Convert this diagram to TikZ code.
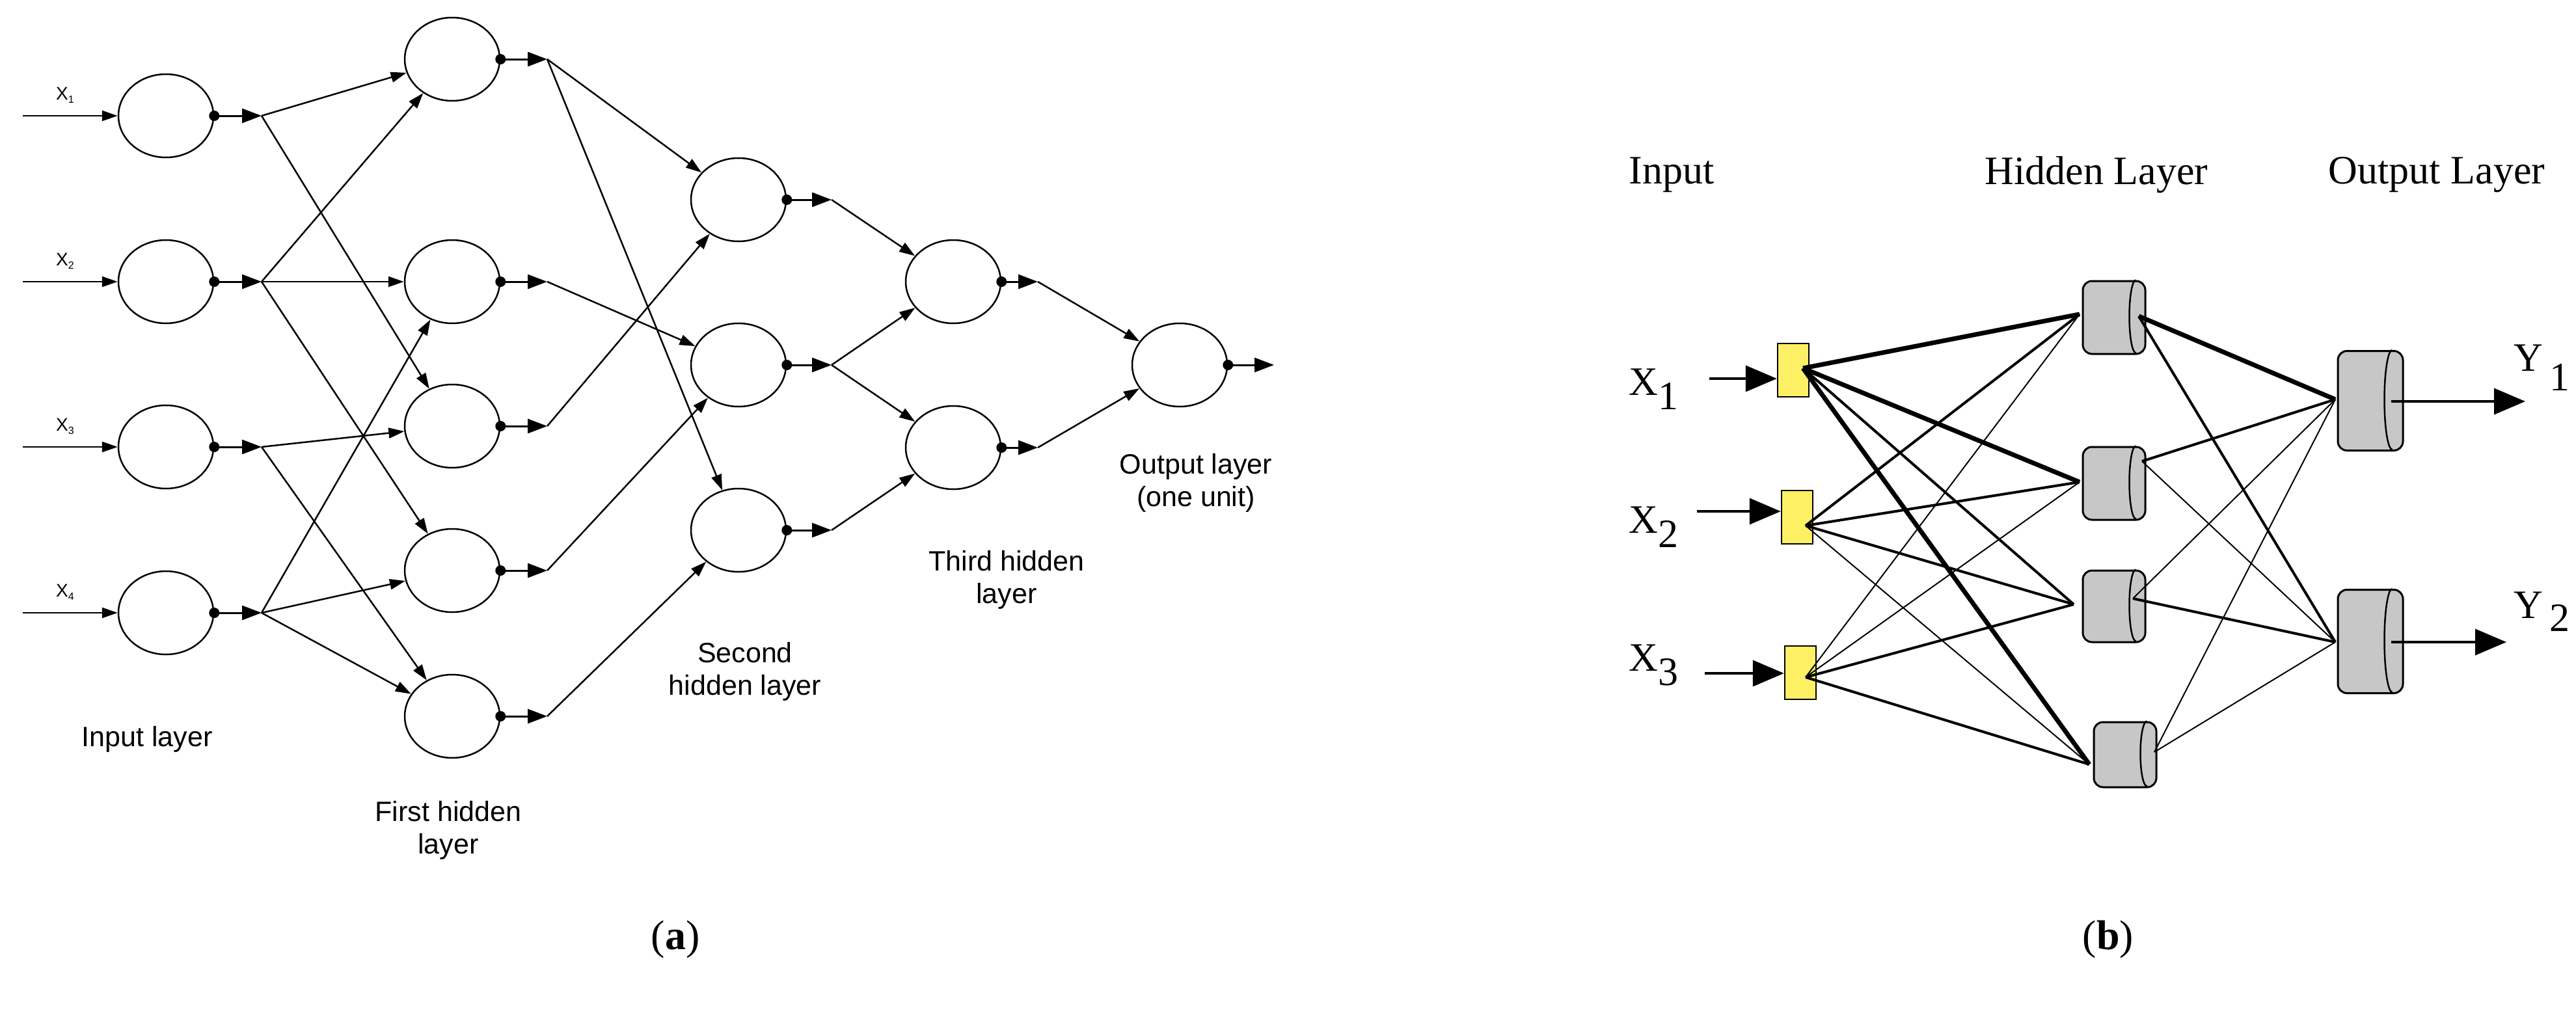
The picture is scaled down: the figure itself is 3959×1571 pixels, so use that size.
\documentclass[tikz,border=0pt]{standalone}
\usepackage{fontspec}
\setmainfont{Liberation Serif}
\newfontfamily\arl{Liberation Sans}
\usetikzlibrary{arrows.meta,shapes.geometric}
\begin{document}
\begin{tikzpicture}[x=1pt,y=-1pt,
  neu/.style={draw,ellipse,line width=2.5pt,minimum width=146pt,minimum height=128pt,inner sep=0pt},
  con/.style={line width=2.5pt,-{Triangle[length=24pt,width=16pt]}},
  fwd/.style={line width=3pt,-{Triangle[length=30pt,width=22pt]}},
  dot/.style={circle,fill,inner sep=0pt,minimum size=16pt},
  lab/.style={font=\arl\fontsize{43}{50}\selectfont,align=center},
  xl/.style={font=\arl\fontsize{28}{30}\selectfont},
  box/.style={draw,line width=2.5pt,fill=yellow!90!orange!60,minimum width=48pt,minimum height=82pt,inner sep=0pt},
  cyl/.style={draw,line width=3pt,fill=black!22,rounded corners=14pt,inner sep=0pt},
  tl/.style={font=\fontsize{62}{70}\selectfont},
  e1/.style={line width=2pt},e2/.style={line width=4pt},e3/.style={line width=7pt},
  big/.style={line width=3.5pt,-{Triangle[length=48pt,width=40pt]}}
]
\useasboundingbox (0,0) rectangle (3959,1571);
% ---------------- (a) ----------------
\foreach \i/\y in {1/178,2/433,3/687,4/942}{
  \node[neu] (in\i) at (255,\y) {};
  \coordinate (s\i) at (35,\y);
  \coordinate (a\i) at (402,\y);
  \node[dot] (d\i) at (in\i.east) {};
  \draw[con] (s\i) -- (in\i);
  \draw[fwd] (d\i.center) -- (a\i);
  \node[xl] (xl\i) at (100,\y-32) {X\raisebox{-5pt}{\fontsize{16}{16}\selectfont\i}};
}
\foreach \i/\y in {a/91,b/433,c/655,d/877,e/1101}{
  \node[neu] (h\i) at (695,\y) {};
  \coordinate (b\i) at (841,\y);
  \node[dot] (db\i) at (h\i.east) {};
  \draw[fwd] (db\i.center) -- (b\i);
}
\foreach \i/\y in {a/307,b/561,c/815}{
  \node[neu] (g\i) at (1135,\y) {};
  \coordinate (c\i) at (1278,\y);
  \node[dot] (dc\i) at (g\i.east) {};
  \draw[fwd] (dc\i.center) -- (c\i);
}
\foreach \i/\y in {a/433,b/688}{
  \node[neu] (t\i) at (1465,\y) {};
  \coordinate (e\i) at (1595,\y);
  \node[dot] (de\i) at (t\i.east) {};
  \draw[fwd] (de\i.center) -- (e\i);
}
\node[neu] (out) at (1813,561) {};
\coordinate (oend) at (1958,561);
\node[dot] (dout) at (out.east) {};
\draw[fwd] (dout.center) -- (oend);
\foreach \s/\t in {a1/ha,a1/hc,a2/ha,a2/hb,a2/hd,a3/hc,a3/he,a4/hb,a4/hd,a4/he,
  ba/ga,ba/gc,bb/gb,bc/ga,bd/gb,be/gc,ca/ta,cb/ta,cb/tb,cc/tb,ea/out,eb/out}
  \draw[con] (\s) -- (\t);
\node[lab] (l1) at (226,1136) {Input layer};
\node[lab] (l2) at (689,1276) {First hidden\\layer};
\node[lab] (l3) at (1145,1032) {Second\\hidden layer};
\node[lab] (l4) at (1547,891) {Third hidden\\layer};
\node[lab] (l5) at (1838,742) {Output layer\\(one unit)};
\node[font=\fontsize{64}{70}\selectfont] (ca) at (1038,1444) {(\textbf{a})};
\node[font=\fontsize{64}{70}\selectfont] (cb) at (3240,1444) {(\textbf{b})};
% ---------------- (b) ----------------
\node[tl,anchor=west] (ti) at (2500,269) {Input};
\node[tl] (th) at (3222,269) {Hidden Layer};
\node[tl] (to) at (3745,269) {Output Layer};
\node[box] (x1) at (2756,569) {};
\node[box] (x2) at (2762,795) {};
\node[box] (x3) at (2767,1034) {};
\coordinate (p1) at (2771,566);
\coordinate (p2) at (2775,808);
\coordinate (p3) at (2775,1041);
\foreach \i/\y/\s in {1/582/2627,2/786/2608,3/1035/2620}{
  \coordinate (q\i) at (\s,\y);
  \draw[big] (q\i) -- (x\i.west|-q\i);
}
\node[tl,anchor=west] (xx1) at (2500,598) {X\raisebox{-22pt}{1}};
\node[tl,anchor=west] (xx2) at (2500,810) {X\raisebox{-22pt}{2}};
\node[tl,anchor=west] (xx3) at (2500,1022) {X\raisebox{-22pt}{3}};
% hidden cylinders
\foreach \i/\x/\y/\h in {1/3249/488/112,2/3249/743/112,3/3249/932/110,4/3266/1160/100}{
  \node[cyl,minimum width=96pt,minimum height=\h pt] (hh\i) at (\x,\y) {};
  \draw[line width=2.5pt] ([xshift=-16pt]hh\i.north east) arc[start angle=90,end angle=270,x radius=10pt,y radius=\h pt/2];
}
\foreach \i/\y/\h in {1/616/153,2/986/159}{
  \node[cyl,minimum width=100pt,minimum height=\h pt] (oo\i) at (3643,\y) {};
  \draw[line width=2.5pt] ([xshift=-18pt]oo\i.north east) arc[start angle=90,end angle=270,x radius=12pt,y radius=\h pt/2];
}
\coordinate (hl1) at (3196,483); \coordinate (hr1) at (3287,486);
\coordinate (hl2) at (3196,741); \coordinate (hr2) at (3292,709);
\coordinate (hl3) at (3187,929); \coordinate (hr3) at (3278,920);
\coordinate (hl4) at (3211,1175); \coordinate (hr4) at (3311,1156);
\coordinate (ol1) at (3589,614); \coordinate (ol2) at (3589,987);
\draw[e3] (p1) -- (hl1);
\draw[e3] (p1) -- (hl2);
\draw[e2] (p1) -- (hl3);
\draw[e3] (p1) -- (hl4);
\draw[e2] (p2) -- (hl1);
\draw[e2] (p2) -- (hl2);
\draw[e2] (p2) -- (hl3);
\draw[e1] (p2) -- (hl4);
\draw[e1] (p3) -- (hl1);
\draw[e1] (p3) -- (hl2);
\draw[e2] (p3) -- (hl3);
\draw[e2] (p3) -- (hl4);
\draw[e3] (hr1) -- (ol1);
\draw[e2] (hr1) -- (ol2);
\draw[e2] (hr2) -- (ol1);
\draw[e1] (hr2) -- (ol2);
\draw[e1] (hr3) -- (ol1);
\draw[e2] (hr3) -- (ol2);
\draw[e1] (hr4) -- (ol1);
\draw[e1] (hr4) -- (ol2);
\coordinate (y1s) at (3675,617); \coordinate (y1e) at (3881,617);
\coordinate (y2s) at (3675,987); \coordinate (y2e) at (3852,987);
\draw[big] (y1s) -- (y1e);
\draw[big] (y2s) -- (y2e);
\node[tl,anchor=west] (yy1) at (3860,565) {Y\raisebox{-30pt}{\,1}};
\node[tl,anchor=west] (yy2) at (3860,940) {Y\raisebox{-20pt}{\,2}};
\end{tikzpicture}
\end{document}
